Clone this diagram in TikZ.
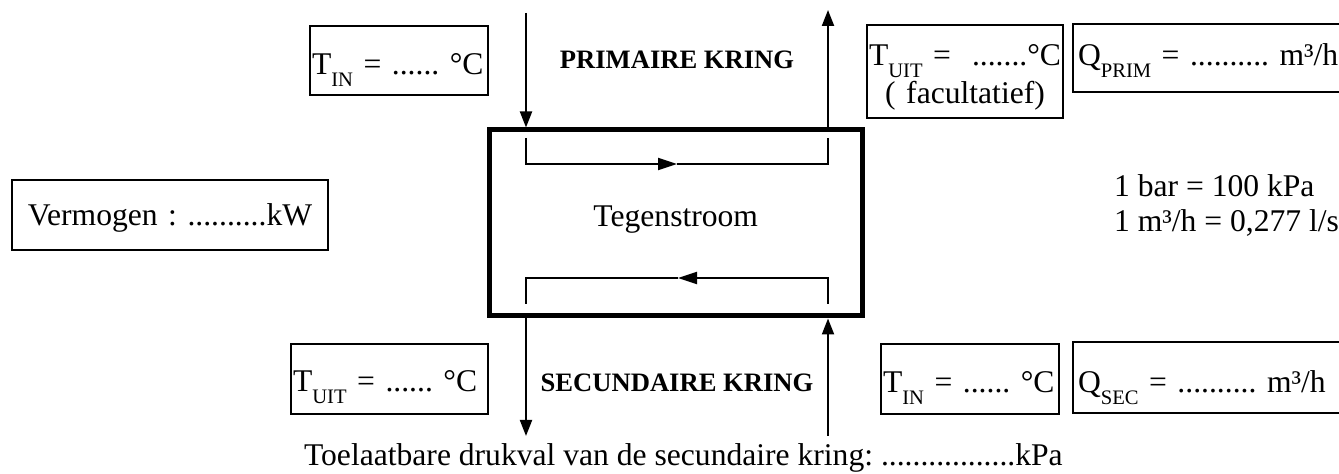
\documentclass[tikz,border=0pt]{standalone}
\usepackage{fontspec}
\setmainfont{Liberation Serif}
\usetikzlibrary{arrows.meta}
\frenchspacing
\newcommand\lowsub[1]{\raisebox{-0.35em}{\fontsize{10.3}{11}\selectfont #1}}

\begin{document}
\begin{tikzpicture}[x=0.5pt, y=-0.5pt, font=\fontsize{15.8}{16.5}\selectfont,
	valbox/.style={draw, line width=1pt, anchor=north west, align=left, inner ysep=0pt, inner xsep=1pt},
	hxbox/.style={draw, line width=2.5pt, inner sep=0pt},
	kring/.style={anchor=base, font=\fontsize{13.3}{14}\selectfont\bfseries},
	flow/.style={line width=1pt, -{Triangle[length=8pt,width=6pt]}},
	midflow/.style={line width=1pt, -{Triangle[length=9.5pt,width=6pt]}}]
\useasboundingbox (0,0) rectangle (1339,474);
\node[hxbox, minimum width=186.25pt, minimum height=93pt] (hx) at (675.75,223) {};
\node[anchor=base] (tegen) at (675.75,227) {Tegenstroom};
\node[kring] (prim) at (677,69) {PRIMAIRE KRING};
\node[kring] (sec) at (677,392) {SECUNDAIRE KRING};
\node[valbox, text width=87pt, text height=24.5pt, text depth=10pt] (tin1) at (309,25) {\mbox{T\lowsub{IN} = ...... °C}};
\node[valbox, align=center, text width=96pt, text height=20.5pt, text depth=26pt] (tuit1) at (866,24) {\mbox{T\lowsub{UIT} =~ .......°C}\\[1pt]( facultatief)};
\node[valbox, inner xsep=2.5pt, text width=134pt, text height=21pt, text depth=13pt] (qprim) at (1072,23) {\mbox{Q\lowsub{PRIM} = .......... m³/h}};
\node[valbox, align=center, text width=156pt, text height=23pt, text depth=12pt] (verm) at (11,179) {\mbox{Vermogen : ..........kW}};
\node[valbox, text width=96.5pt, text height=24pt, text depth=11pt] (tuit2) at (290,343) {\mbox{T\lowsub{UIT} = ...... °C}};
\node[valbox, text width=87pt, text height=24.5pt, text depth=10.5pt] (tin2) at (880,343) {\mbox{T\lowsub{IN} = ...... °C}};
\node[valbox, inner xsep=2.5pt, text width=134pt, text height=25.5pt, text depth=10pt] (qsec) at (1072,341) {\mbox{Q\lowsub{SEC} = .......... m³/h}};
\node[anchor=base west] (bar) at (1107,197) {1 bar = 100 kPa};
\node[anchor=base west] (conv) at (1107,232) {1 m³/h = 0,277 l/s};
\node[anchor=base west] (druk) at (297,466) {Toelaatbare drukval van de secundaire kring: .................kPa};
\coordinate (pin) at (526,13);
\coordinate (pout) at (828,10);
\coordinate (sout) at (526,436);
\coordinate (sin) at (828,436);
\draw[flow] (pin) -- (pin |- hx.north);
\draw[flow] (pout |- hx.north) -- (pout);
\draw[flow] (sout |- hx.south) -- (sout);
\draw[flow] (sin) -- (sin |- hx.south);
\coordinate (pa) at (526,138);
\coordinate (pm) at (677,164);
\coordinate (pb) at (828,138);
\coordinate (sa) at (526,304);
\coordinate (sm) at (678,278);
\coordinate (sb) at (828,304);
\draw[midflow] (pa) |- (pm);
\draw[line width=1pt] (pm) -| (pb);
\draw[midflow] (sb) |- (sm);
\draw[line width=1pt] (sm) -| (sa);
\end{tikzpicture}
\end{document}
